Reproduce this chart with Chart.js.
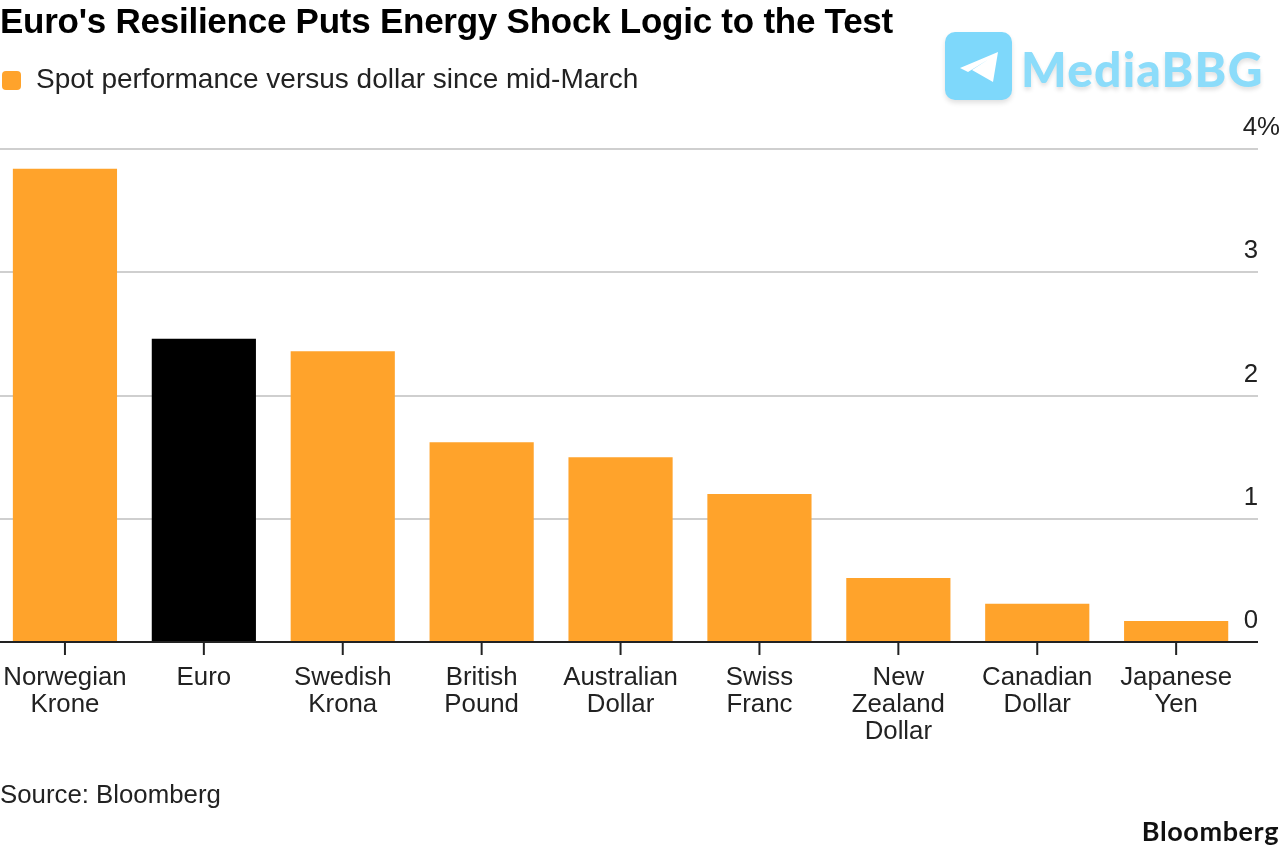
<!DOCTYPE html>
<html><head><meta charset="utf-8">
<style>
html,body{margin:0;padding:0;background:#fff;width:1280px;height:848px;overflow:hidden}
#wrap{position:absolute;left:0;top:0;width:1280px;height:848px}
canvas{position:absolute;left:0;top:0}
.t{position:absolute;font-family:"Liberation Sans",sans-serif;color:#000;white-space:nowrap}
</style>
<script src="https://cdn.jsdelivr.net/npm/chart.js@4"></script>
</head><body>
<div id="wrap">
<canvas id="c" width="1280" height="848"></canvas>
<div class="t" style="left:0;top:1px;font-size:35px;font-weight:700;letter-spacing:-0.25px">Euro's Resilience Puts Energy Shock Logic to the Test</div>
<div style="position:absolute;left:2px;top:71px;width:19px;height:19px;border-radius:4px;background:#ffa32b"></div>
<div class="t" style="left:36px;top:63px;font-size:28px;color:#222">Spot performance versus dollar since mid-March</div>
<div class="t" style="left:0;top:780px;font-size:25.8px;color:#222">Source: Bloomberg</div>
<div class="t" style="right:1px;top:814px;font-family:Lato,sans-serif;font-size:27px;font-weight:700;letter-spacing:0.6px;color:#111">Bloomberg</div>
<div style="position:absolute;left:945px;top:32px;width:67px;height:68px;border-radius:10px;background:#7ed8fb;box-shadow:0 3px 5px rgba(0,0,0,.12)"></div>
<svg style="position:absolute;left:945px;top:32px" width="67" height="68"><path d="M15 36 L53 20 L48 50 L27 38 L44 27 L23 40 Z" fill="#fff"/></svg>
<div class="t" style="left:1021px;top:40px;font-family:Lato,sans-serif;font-size:48px;font-weight:900;color:#8cdcfa;letter-spacing:1.2px;text-shadow:0 3px 4px rgba(0,0,0,.12)">MediaBBG</div>
</div>
<script>
const categories=[["Norwegian","Krone"],["Euro"],["Swedish","Krona"],["British","Pound"],["Australian","Dollar"],["Swiss","Franc"],["New","Zealand","Dollar"],["Canadian","Dollar"],["Japanese","Yen"]];
const values=[3.84,2.46,2.36,1.62,1.5,1.2,0.52,0.31,0.17];
const barColors=["#ffa32b","#000000","#ffa32b","#ffa32b","#ffa32b","#ffa32b","#ffa32b","#ffa32b","#ffa32b"];
const tickValues=[0,1,2,3,4];
const font="'Liberation Sans', sans-serif";
new Chart(document.getElementById('c'),{
 type:'bar',
 data:{labels:categories,datasets:[{data:values,backgroundColor:barColors,borderWidth:0,barPercentage:0.75,categoryPercentage:1}]},
 options:{responsive:false,animation:false,devicePixelRatio:1,
  layout:{padding:0},
  plugins:{legend:{display:false},tooltip:{enabled:false}},
  scales:{
   x:{grid:{display:false,drawTicks:false},border:{display:false},ticks:{display:false}},
   y:{position:'right',min:0,max:4,afterBuildTicks(s){s.ticks=tickValues.map(v=>({value:v}));},grid:{color:'#cfcfcf',lineWidth:2,drawTicks:false},border:{display:false},ticks:{display:false}}
  }
 },
 plugins:[{id:'frame',
  afterLayout(c){
   const a=c.chartArea;a.left=0;a.right=1258;a.top=149;a.bottom=642;a.width=1258;a.height=493;
   const x=c.scales.x,y=c.scales.y;
   x.left=-4.5;x.right=1245.6;x.width=1250.1;x.top=642;x.bottom=642;x.height=0;x.configure();
   y.left=1258;y.right=1280;y.width=22;y.top=149;y.bottom=642;y.height=493;y.configure();
  },
  afterDraw(c){
   const g=c.ctx,x=c.scales.x,y=c.scales.y;
   g.save();
   g.fillStyle='#222';g.font='25.8px '+font;g.textBaseline='middle';g.textAlign='right';
   tickValues.forEach(v=>g.fillText(v===4?v+'%':String(v),v===4?1280:1258,y.getPixelForValue(v)-21));
   g.strokeStyle='#222';g.lineWidth=2;
   g.beginPath();g.moveTo(0,642);g.lineTo(1258,642);g.stroke();
   g.textAlign='center';
   categories.forEach((l,i)=>{const px=x.getPixelForValue(i);
    g.beginPath();g.moveTo(px,642);g.lineTo(px,655);g.stroke();
    l.forEach((s,j)=>g.fillText(s,px,678+j*27));});
   g.restore();
  }}]
});
</script>
</body></html>
